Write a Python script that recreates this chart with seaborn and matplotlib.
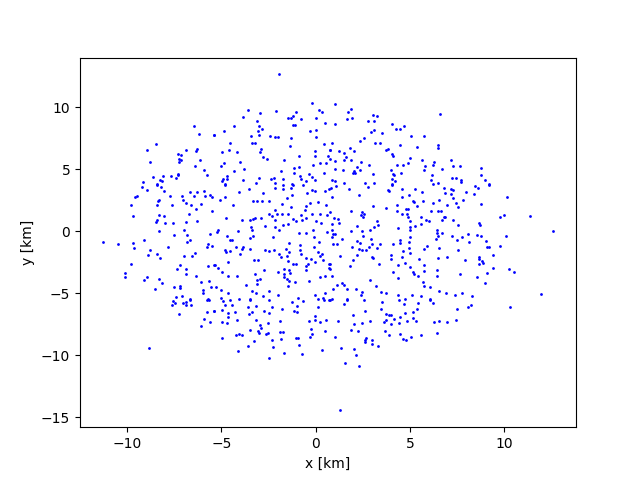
import matplotlib
matplotlib.use("Agg")
import matplotlib.pyplot as plt
import seaborn as sns
import pandas as pd

# Station positions (km)
x_km = [
 -6.47,-6.21,-5.41,-8.49,-8.97,-6.90,-6.31,-6.37,-7.32,-7.16,-7.27,-7.16,-7.27,-8.81,-6.15,-6.42,-5.94,-5.78,-8.65,-8.12,-7.70,-7.32,-7.32,-7.43,-8.28,-8.17,-8.44,-9.18,
 -1.95,-0.19,-3.60,-2.96,-2.11,-1.04,0.18,0.34,-3.86,-1.47,-1.31,-1.20,-0.78,0.02,-3.12,0.50,-3.01,-1.20,-1.10,-4.34,-2.85,-3.06,-0.30,0.02,-4.87,-5.37,-3.01,-3.44,-2.43,-2.16,-2.00,-1.31,0.02,-4.55,-3.38,-3.22,-1.36,0.45,-2.91,-4.61,-2.96,-4.98,-4.18,-0.03,0.76,-2.80,-2.59,-0.88,-0.03,0.66,-1.68,-4.02,-4.87,-5.03,-0.14,0.23,0.55,-3.81,-4.34,-1.84,-1.15,-0.88,-1.15,-0.35,0.45,-0.83,-0.19,-4.71,-4.71,-4.93,-4.98,-3.01,-2.37,-2.21,-1.74,-0.78,-0.03,-0.51,-3.86,-3.17,-2.16,-1.26,-4.82,
 1.03,6.61,1.88,1.72,3.05,3.26,1.67,1.93,2.78,4.06,3.10,1.03,4.70,4.27,4.49,3.10,2.94,3.53,5.07,5.76,2.57,2.36,0.87,3.16,3.42,4.49,5.39,6.51,6.51,1.83,0.76,1.24,2.04,3.85,3.74,1.51,4.06,4.11,1.61,5.02,0.76,1.03,1.51,1.88,5.66,2.41,4.91,6.30,2.84,4.33,4.65,5.82,6.24,2.20,1.03,1.45,2.36,4.01,5.76,6.72,2.04,1.99,2.09,3.05,4.11,4.17,4.54,6.19,4.06,4.22,6.13,0.87,1.03,1.51,2.62,3.10,4.06,6.51,6.24,
 7.20,7.30,7.68,8.79,8.79,7.25,7.46,7.73,7.73,9.00,9.22,
 -9.19,-8.23,-8.44,-8.97,-8.07,-6.69,-6.31,-5.94,-5.62,-5.51,-9.61,-9.50,-7.75,-7.11,-6.47,-5.89,-8.33,-8.39,-7.06,-6.90,-9.82,-8.44,-7.64,-6.63,-6.10,-6.37,-5.51,-6.74,-9.72,-8.33,-8.07,-8.44,-8.49,-8.01,-7.59,-6.90,-6.31,-7.00,-8.33,-5.62,-7.54,-6.85,-6.69,-9.13,-6.85,-11.31,-10.51,-9.72,-5.73,-5.51,-5.78,-9.66,-7.85,-8.81,-6.42,-6.58,-8.92,-8.44,-8.28,-7.00,-9.82,-7.22,-5.73,-5.41,-7.38,-6.90,-6.90,-10.14,-10.14,-8.97,-9.13,-8.33,-8.17,-6.37,-6.10,-5.67,-5.57,-8.55,-7.54,-7.22,-7.22,-5.99,-5.99,-7.43,-7.11,-6.69,-5.73,
 -4.82,-3.54,-4.08,-2.80,-2.16,-1.74,-1.74,-1.31,-1.20,-0.67,-0.46,-0.19,-0.03,0.50,0.71,-5.09,-4.82,-1.52,-1.26,-3.33,-3.12,-2.85,-2.48,-4.39,-1.79,-0.30,0.13,0.55,-1.31,-0.51,-2.16,-0.56,-2.48,-2.05,-1.79,-1.47,-0.78,-0.19,0.23,0.61,-2.32,-4.77,-3.92,-3.49,-3.33,-3.22,-2.91,-2.16,-1.20,-1.04,-0.72,-0.51,0.02,0.29,-2.69,-1.74,-1.47,-2.16,-1.95,-3.44,-3.38,-5.19,-5.25,-4.13,-0.14,-0.88,-0.51,0.61,-4.71,-3.33,-3.49,-2.27,-0.09,-4.55,-4.45,0.18,-1.42,-0.83,-0.09,-4.23,-3.86,-3.49,-3.92,-4.82,-4.77,-4.55,-2.69,-2.48,-2.21,-1.58,-1.42,-0.83,0.13,-4.02,-1.95,-1.52,-1.84,0.34,0.23,-0.78,-0.51,-0.25,0.39,-3.28,-3.06,-4.66,-1.47,-0.03,-1.20,-1.04,-0.51,-0.41,0.71,-5.35,-5.19,-2.75,-1.68,-1.42,-0.51,0.71,-4.98,-2.00,-3.22,-1.68,-1.36,-4.66,-4.18,-1.68,0.23,0.50,-2.96,-3.12,-1.52,-1.42,-0.35,-1.10,-3.12,-3.70,-1.47,-5.30,-5.03,-3.38,-4.66,-3.17,-2.48,-2.00,-2.80,-0.94,-0.03,0.50,-5.03,-4.08,-3.49,-2.48,0.13,0.39,
 0.82,1.08,1.77,2.78,3.85,3.90,4.06,4.59,5.28,5.66,6.83,0.87,2.31,4.59,4.97,5.18,5.23,5.71,6.56,6.24,4.33,5.39,3.05,3.74,4.80,4.91,6.51,6.67,0.76,1.88,2.46,2.57,2.41,2.52,4.33,4.59,4.86,6.13,4.91,0.98,1.19,5.60,6.83,6.72,5.87,6.03,5.02,3.26,0.87,1.24,5.60,5.28,3.32,2.20,3.10,4.38,5.02,5.02,0.87,6.45,1.88,2.46,2.89,6.45,6.72,0.92,1.03,0.87,2.52,5.02,6.51,1.40,2.94,4.49,6.40,2.20,4.97,0.92,1.14,2.36,3.00,3.42,4.11,4.49,5.92,1.93,2.84,2.31,2.46,2.68,3.26,4.97,5.76,6.56,4.65,5.02,2.20,4.01,1.30,3.00,3.05,4.01,4.59,1.99,5.50,6.51,0.76,3.37,4.38,4.75,5.76,1.83,5.02,0.76,6.45,4.11,5.18,5.76,5.23,5.44,6.45,0.87,4.38,2.89,5.71,1.40,1.14,1.51,3.21,5.76,6.08,0.92,1.67,2.14,2.46,2.41,3.48,3.74,4.38,5.12,5.60,6.56,6.08,4.75,1.67,0.87,
 8.47,9.22,8.63,7.20,7.30,7.99,6.88,7.20,8.42,10.18,7.30,7.84,7.46,8.79,6.98,7.57,9.80,10.02,11.40,6.88,7.30,8.69,8.74,7.57,12.62,8.10,8.58,8.79,10.12,7.25,7.78,7.52,9.06,8.15,9.11,9.22,9.80,7.57,9.43,6.98,8.69,8.69,8.85,8.90,7.94,8.69,9.43,10.28,10.50,7.68,9.11,8.58,9.00,6.93,7.41,7.78,8.31,11.98,
 -7.59,-7.48,-7.64,-7.06,-6.90,-6.90,-6.63,-6.69,-5.78,-5.67,-7.27,-5.78,-5.41,-5.94,-5.62,-6.10,-8.87,
 -4.93,-4.55,-3.49,-4.82,-4.45,-3.60,-3.17,-2.32,-1.26,-1.01,-0.67,0.13,0.45,0.71,-5.37,-4.98,-4.66,-4.66,-4.29,-3.54,-3.38,-2.75,-2.48,-1.79,-1.15,-0.99,-4.98,-4.71,-4.18,-3.17,-2.53,-1.90,-0.03,-0.35,-0.03,0.23,0.55,-2.96,-2.91,-3.06,-3.01,-3.49,-2.64,-2.53,-1.90,-1.74,-0.25,-0.19,-0.30,0.50,-4.23,-4.08,-3.92,-4.98,-3.28,-2.32,-1.84,-1.04,-0.94,-3.60,-2.27,-0.88,-4.13,-1.68,-0.72,0.34,-2.48,
 0.76,1.67,2.57,4.43,6.08,1.51,3.53,4.70,5.44,6.24,3.48,5.39,2.62,5.18,1.99,3.74,3.90,4.01,4.75,4.49,5.18,4.17,3.74,3.64,4.86,5.34,1.19,2.89,4.43,4.01,2.04,2.46,6.29,6.56,1.88,2.25,3.69,3.90,4.49,5.60,6.45,1.03,2.68,2.62,2.62,3.00,3.00,3.32,4.65,4.80,5.07,1.35,2.04,2.14,1.56,2.31,1.30,
 7.52,8.10,8.26,10.34,6.98,7.46,
]
y_km = [
 8.45,7.80,7.72,6.99,6.51,6.51,6.59,6.43,6.19,6.11,5.78,5.70,5.54,5.54,5.70,5.22,4.90,4.49,4.33,4.41,4.41,4.57,4.49,4.25,4.09,4.01,3.77,3.93,
 12.64,10.30,9.74,9.49,9.66,9.57,9.74,9.57,9.17,9.09,9.09,9.25,9.01,9.09,8.85,8.69,8.45,8.53,8.53,8.45,8.20,8.04,8.04,8.12,8.04,7.72,7.72,7.64,7.64,7.56,7.56,7.48,7.56,7.07,7.07,7.07,6.83,6.99,6.59,6.51,6.35,6.35,6.35,6.43,6.51,5.95,5.78,6.03,6.03,6.03,5.70,5.54,5.46,5.22,5.30,5.46,5.46,4.98,4.82,4.82,5.06,5.14,4.66,4.57,4.66,4.41,4.33,4.41,4.17,4.17,4.01,4.25,4.17,4.25,4.17,4.17,4.09,4.01,4.09,3.85,3.85,3.77,3.77,
 10.22,9.41,9.82,9.57,9.33,9.25,9.01,9.09,8.85,8.61,8.85,8.61,8.45,8.20,8.20,8.12,7.96,7.88,7.64,7.64,7.48,7.24,7.07,7.07,7.07,6.91,6.75,6.91,6.67,6.67,6.51,6.43,6.43,6.59,6.51,6.27,6.19,6.03,5.95,5.87,5.78,5.62,5.70,5.70,5.70,5.54,5.46,5.54,5.30,5.30,5.30,5.22,5.30,5.14,4.98,4.90,4.90,4.90,4.90,4.98,4.82,4.66,4.66,4.57,4.57,4.49,4.66,4.49,4.17,4.01,4.09,4.09,4.01,3.85,3.85,3.85,3.77,3.85,3.77,
 5.70,5.22,5.22,5.06,4.49,4.25,4.25,4.09,3.93,4.09,3.77,
 3.52,3.52,3.68,3.28,3.20,3.12,3.12,3.20,2.88,2.72,2.72,2.80,2.80,2.80,2.80,2.80,2.55,2.39,2.55,2.23,2.07,2.07,2.07,2.07,2.15,1.75,1.59,1.42,1.18,1.26,1.18,0.86,0.70,0.62,0.62,0.70,0.78,0.05,-0.03,-0.27,-0.35,-0.35,-0.75,-0.75,-0.91,-0.91,-1.07,-0.99,-1.07,-1.24,-1.32,-1.40,-1.32,-1.56,-1.80,-2.04,-1.96,-1.88,-2.20,-2.04,-2.69,-2.77,-2.85,-2.77,-3.09,-3.09,-3.49,-3.41,-3.74,-3.74,-3.98,-3.90,-4.22,-3.66,-4.14,-4.06,-4.54,-4.70,-4.54,-4.46,-4.62,-4.78,-5.03,-5.35,-5.27,-5.51,-5.51,
 3.68,3.36,3.12,3.04,3.44,3.68,3.36,3.44,3.71,3.68,3.04,3.28,3.20,3.20,3.36,2.55,2.72,2.64,2.88,2.39,2.39,2.39,2.39,2.07,2.15,2.23,2.31,2.07,1.91,1.99,1.67,1.67,1.42,1.42,1.42,1.42,1.34,1.42,1.42,1.34,1.18,1.02,0.86,0.86,0.94,1.02,1.02,0.86,0.94,0.78,0.86,1.02,0.78,0.62,0.38,0.46,0.54,0.30,0.13,0.30,0.13,0.13,-0.11,-0.03,0.13,-0.19,-0.19,-0.11,-0.43,-0.43,-0.59,-0.51,-0.51,-0.75,-0.75,-0.91,-0.99,-1.15,-1.32,-1.32,-1.32,-1.48,-1.48,-1.56,-1.72,-1.64,-1.56,-1.64,-1.56,-1.48,-1.72,-1.56,-1.72,-1.88,-1.88,-2.04,-2.12,-1.88,-2.04,-1.88,-2.20,-2.28,-2.36,-2.36,-2.36,-2.52,-2.44,-2.52,-2.69,-2.69,-2.85,-2.69,-2.69,-2.77,-3.01,-3.17,-3.09,-3.17,-3.17,-3.01,-3.33,-3.33,-3.49,-3.49,-3.41,-3.66,-3.66,-3.74,-3.74,-3.66,-3.90,-3.98,-3.90,-4.06,-4.06,-4.14,-4.30,-4.38,-4.46,-4.54,-4.78,-4.86,-5.03,-5.03,-4.86,-5.19,-5.27,-5.43,-5.19,-5.03,-5.43,-5.51,-5.51,-5.59,-5.51,-5.43,
 3.44,3.60,3.36,3.52,3.28,3.20,3.68,3.36,3.36,3.12,3.44,2.72,2.88,2.72,2.88,2.39,2.31,2.39,2.47,2.23,2.07,1.99,1.99,1.83,1.75,1.75,1.59,1.59,1.51,1.59,1.51,1.42,1.26,1.10,1.59,1.42,1.42,1.59,1.10,1.02,0.94,1.10,1.10,0.86,0.86,0.78,0.78,0.78,0.54,0.62,0.54,0.38,0.46,0.38,0.30,0.22,0.30,0.13,0.13,0.13,-0.03,-0.03,0.05,-0.19,-0.19,-0.27,-0.27,-0.51,-0.43,-0.51,-0.43,-0.67,-0.67,-0.75,-0.67,-0.83,-0.91,-1.07,-1.07,-0.99,-1.07,-1.07,-1.07,-0.99,-1.24,-1.32,-1.32,-1.48,-1.56,-1.56,-1.40,-1.40,-1.48,-1.40,-1.64,-1.80,-1.96,-1.96,-2.04,-2.12,-2.20,-2.28,-2.12,-2.36,-2.28,-2.20,-2.69,-2.69,-2.77,-2.61,-2.77,-2.85,-2.93,-3.09,-3.17,-3.33,-3.33,-3.25,-3.49,-3.66,-3.66,-3.66,-3.82,-3.98,-4.14,-4.22,-4.38,-4.38,-4.46,-4.46,-4.54,-4.70,-4.70,-4.70,-4.94,-5.19,-4.94,-5.03,-5.19,-5.19,-5.27,-4.86,-5.51,-5.51,-5.51,-5.51,
 3.60,3.71,3.44,3.36,3.28,3.12,3.04,2.96,2.96,2.72,2.64,2.55,2.23,2.15,2.07,1.91,1.10,1.26,1.18,1.10,0.86,0.62,0.46,0.46,-0.03,-0.27,-0.35,-0.43,-0.43,-0.43,-0.51,-0.75,-0.83,-0.91,-1.32,-1.32,-1.24,-1.56,-1.96,-2.12,-2.12,-2.28,-2.44,-2.61,-2.36,-2.69,-3.01,-3.09,-3.33,-3.49,-3.41,-3.74,-4.22,-5.03,-5.19,-5.03,-5.27,-5.11,
 -5.67,-5.83,-5.99,-5.83,-5.75,-5.99,-5.99,-5.59,-5.59,-5.59,-6.72,-6.55,-6.47,-7.12,-7.36,-7.68,-9.46,
 -5.67,-5.59,-5.59,-5.99,-5.99,-6.15,-6.07,-6.15,-5.75,-6.07,-5.67,-6.15,-5.59,-5.59,-6.47,-6.39,-6.64,-6.96,-6.55,-6.72,-6.55,-6.47,-6.64,-6.31,-6.47,-6.55,-7.36,-7.44,-7.20,-7.20,-7.44,-7.28,-6.88,-7.28,-7.20,-7.36,-7.20,-7.60,-7.84,-8.09,-8.25,-8.01,-8.33,-8.25,-8.17,-8.17,-7.92,-8.33,-8.57,-8.09,-8.41,-8.33,-8.41,-8.65,-8.89,-8.81,-8.73,-8.65,-8.65,-9.30,-9.38,-9.22,-9.70,-9.86,-9.94,-9.62,-10.26,
 -5.59,-5.59,-5.59,-5.59,-5.59,-5.91,-5.75,-5.91,-5.83,-5.83,-6.31,-6.31,-6.47,-6.55,-6.80,-6.72,-6.80,-6.80,-6.64,-6.96,-7.04,-7.12,-7.20,-7.36,-7.28,-7.28,-7.28,-7.28,-7.44,-7.52,-7.52,-7.44,-7.36,-7.28,-8.01,-8.09,-8.09,-8.41,-8.33,-8.41,-8.25,-8.57,-8.65,-8.81,-8.97,-8.81,-9.14,-9.30,-8.73,-8.81,-8.57,-9.46,-9.54,-10.02,-10.67,-10.91,-14.46,
 -6.31,-6.15,-5.99,-6.15,-7.36,-7.20,
]

n = min(len(x_km), len(y_km))
df = pd.DataFrame({"x": x_km[:n], "y": y_km[:n]})

fig, ax = plt.subplots(figsize=(6.4, 4.8), dpi=100)
sns.scatterplot(data=df, x="x", y="y", ax=ax, color="blue", s=4,
                linewidth=0, marker="o", legend=False)
ax.set_xlabel("x [km]")
ax.set_ylabel("y [km]")
ax.set_xticks([-10, -5, 0, 5, 10])
ax.set_yticks([-15, -10, -5, 0, 5, 10])
fig.savefig("out.png", dpi=100)
print(len(x_km), len(y_km))
